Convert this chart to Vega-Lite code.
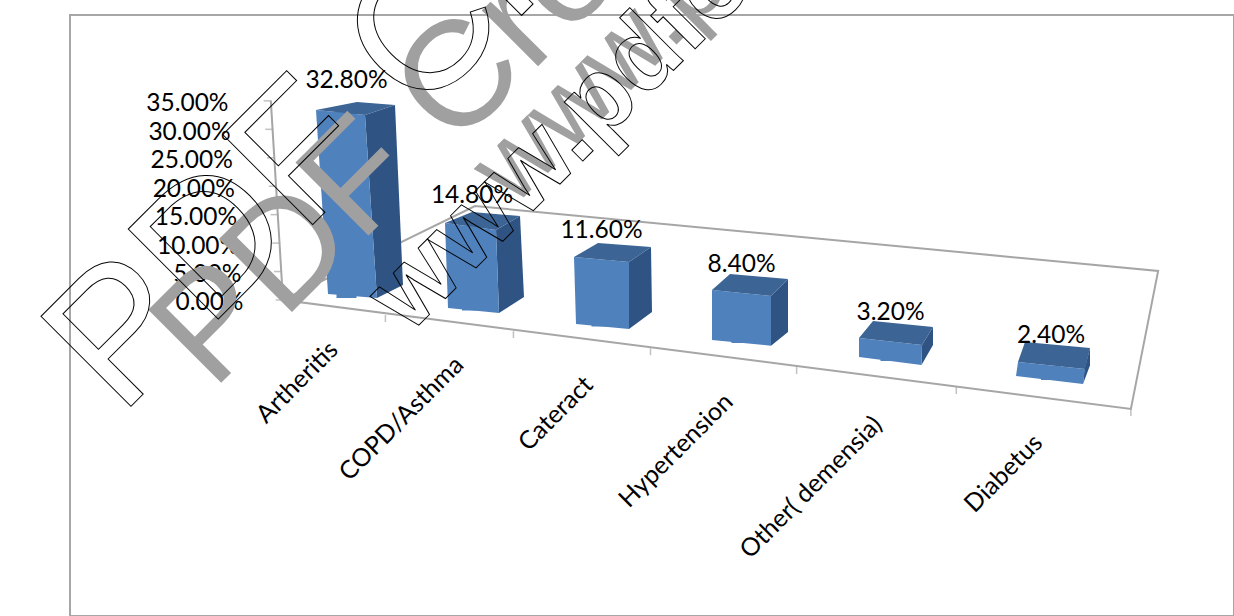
{
"$schema":"https://vega.github.io/schema/vega-lite/v6.json",
"width":1164,"height":601,
"autosize":{"type":"none"},
"padding":{"left":70,"top":15,"right":0,"bottom":0},
"background":"white",
"config":{"view":{"stroke":"#a6a6a6","strokeWidth":2},"font":"Lato"},
"datasets":{
"bars":[
{"order":1,"category":"Artheritis","value":0.328,"floor":0.0035,"top":0.3315},
{"order":2,"category":"COPD/Asthma","value":0.148,"floor":-0.0185,"top":0.1295},
{"order":3,"category":"Cateract","value":0.116,"floor":-0.0466,"top":0.0694},
{"order":4,"category":"Hypertension","value":0.084,"floor":-0.0756,"top":0.0084},
{"order":5,"category":"Other( demensia)","value":0.032,"floor":-0.1072,"top":-0.0752},
{"order":6,"category":"Diabetus","value":0.024,"floor":-0.1406,"top":-0.1166}],
"frame":[
{"seq":1,"pos":-0.033,"share":0.35},
{"seq":2,"pos":0.133,"share":0},
{"seq":3,"pos":6.873,"share":-0.1916},
{"seq":4,"pos":7.171,"share":0.051},
{"seq":5,"pos":2.023,"share":0.1652},
{"seq":6,"pos":0.133,"share":0}],
"valueTicks":[
{"pos":0.088,"share":0},{"pos":0.065,"share":0.05},{"pos":0.041,"share":0.1},{"pos":0.018,"share":0.15},
{"pos":-0.007,"share":0.2},{"pos":-0.03,"share":0.25},{"pos":-0.054,"share":0.3},{"pos":-0.077,"share":0.35}],
"categoryTicks":[
{"pos":1.31,"share":-0.0325},{"pos":2.32,"share":-0.0608},{"pos":3.35,"share":-0.091},
{"pos":4.37,"share":-0.124},{"pos":5.41,"share":-0.159},{"pos":6.873,"share":-0.1977}],
"stampGrey":[{"text":"PDF Create!","pos":-0.83,"share":-0.161}],
"stampOutline":[{"text":"PDF Create!","pos":-2.09,"share":-0.2056}],
"webGrey":[{"text":"www.pdfonline.com","pos":2.317,"share":0.1617}],
"webOutline":[{"text":"www.pdfonline.com","pos":1.498,"share":-0.0615}]
},
"resolve":{"scale":{"shape":"independent","yOffset":"independent","size":"independent"}},
"layer":[
{"data":{"name":"frame"},
 "mark":{"type":"line","stroke":"#a6a6a6","strokeWidth":2},
 "encoding":{
  "x":{"field":"pos","type":"quantitative","axis":null,"scale":{"domain":[0,1,2,3,4,5,6,7],"range":[130,276.5,402,531.5,671.5,820.5,981,1164]}},
  "y":{"field":"share","type":"quantitative","scale":{"domain":[-0.5554,0.5009],"nice":false},
   "axis":{"title":null,"offset":-180,"domain":false,"ticks":false,"grid":false,"values":[0,0.05,0.1,0.15,0.2,0.25,0.3,0.35],
    "format":".2%","labelFont":"Lato","labelFontSize":24.5,"labelColor":"black",
    "labelOffset":3,"labelOverlap":false,"labelBound":false,"labelFlush":false,
    "labelPadding":{"expr":"7+15*datum.value/0.35"}}},
  "order":{"field":"seq"}}},
{"data":{"name":"valueTicks"},
 "mark":{"type":"tick","orient":"horizontal","color":"#a6a6a6","size":8,"thickness":1.5},
 "encoding":{"x":{"field":"pos","type":"quantitative","axis":null},"y":{"field":"share","type":"quantitative"}}},
{"data":{"name":"categoryTicks"},
 "mark":{"type":"tick","orient":"vertical","color":"#a6a6a6","size":7,"thickness":1.5},
 "encoding":{"x":{"field":"pos","type":"quantitative","axis":null},"y":{"field":"share","type":"quantitative"}}},
{"data":{"name":"bars"},
 "mark":{"type":"point","filled":true,"color":"#2f5483","opacity":1},
 "encoding":{
  "x":{"field":"order","type":"quantitative"},
  "y":{"field":"top","type":"quantitative"},
  "size":{"value":4},
  "shape":{"field":"category","type":"nominal","legend":null,"scale":{"domain":["Artheritis","COPD/Asthma","Cateract","Hypertension","Other( demensia)","Diabetus"],
   "range":[
   "M18.5 3.6L48.5 -6.4L56.5 173.6L30.5 186.6Z",
   "M24 3.7L48 -10.3L52 70.7L27 86.7Z",
   "M27.5 1.5L49.5 -13.5L50.5 51.5L27.5 68.5Z",
   "M29.5 0.8L46.5 -16.2L46.5 36.8L29.5 50.5Z",
   "M31.5 2.2L42.5 -15.8L42.5 2.2L31 22.2Z",
   "M33.5 2.7L39 -18.3L39 -1L32 17.7Z"]}}}},
{"data":{"name":"bars"},
 "mark":{"type":"point","filled":true,"color":"#4f81bd","opacity":1},
 "encoding":{
  "x":{"field":"order","type":"quantitative"},
  "y":{"field":"top","type":"quantitative"},
  "size":{"value":4},
  "shape":{"field":"category","type":"nominal","legend":null,"scale":{"domain":["Artheritis","COPD/Asthma","Cateract","Hypertension","Other( demensia)","Diabetus"],
   "range":[
   "M-30.5 -1.4L18.5 3.6L30.5 186.6L-18.5 182.6Z",
   "M-27 -3.3L24 3.7L27 86.7L-24 81.7Z",
   "M-27.5 -3.5L27.5 1.5L27.5 68.5L-25.5 63.5Z",
   "M-29.5 -5.2L29.5 0.8L29.5 50.5L-29.5 44.8Z",
   "M-31.5 -4.8L31.5 2.2L31 22.2L-31.5 14.2Z",
   "M-33 -4.3L34 2.7L32 17.7L-35 9.7Z"]}}}},
{"data":{"name":"bars"},
 "mark":{"type":"bar","color":"#4f81bd"},
 "encoding":{
  "x":{"field":"order","type":"quantitative"},
  "y":{"field":"top","type":"quantitative"},
  "y2":{"field":"floor"},
  "size":{"value":20}}},
{"data":{"name":"bars"},
 "mark":{"type":"point","filled":true,"color":"#3c6494","opacity":1},
 "encoding":{
  "x":{"field":"order","type":"quantitative"},
  "y":{"field":"top","type":"quantitative"},
  "size":{"value":4},
  "shape":{"field":"category","type":"nominal","legend":null,"scale":{"domain":["Artheritis","COPD/Asthma","Cateract","Hypertension","Other( demensia)","Diabetus"],
   "range":[
   "M-30.5 -1.4L18.5 3.6L48.5 -6.4L10.5 -9.4Z",
   "M-27 -3.3L24 3.7L48 -10.3L0 -14.3Z",
   "M-27.5 -3.5L27.5 1.5L49.5 -13.5L-3.5 -17.5Z",
   "M-29.5 -5.2L29.5 0.8L46.5 -16.2L-11.5 -21.2Z",
   "M-31.5 -4.8L31.5 2.2L42.5 -15.8L-17.5 -21.8Z",
   "M-33 -4.3L34 2.7L39 -18.3L-26 -24.3Z"]}}}},
{"data":{"name":"bars"},
 "mark":{"type":"text","font":"Lato","fontSize":24.5,"color":"black","dy":-30,"baseline":"middle"},
 "encoding":{
  "x":{"field":"order","type":"quantitative"},
  "y":{"field":"top","type":"quantitative"},
  "text":{"field":"value","type":"quantitative","format":".2%"}}},
{"data":{"name":"bars"},
 "mark":{"type":"text","font":"Lato","fontSize":25,"color":"black","angle":315,"align":"right","baseline":"middle","dx":-18},
 "encoding":{
  "x":{"field":"order","type":"quantitative"},
  "y":{"datum":0},
  "yOffset":{"field":"order","type":"quantitative","scale":{"domain":[1,2,3,4,5,6],"range":[33,48,68,85,108,126]}},
  "text":{"field":"category","type":"nominal"}}},
{"data":{"name":"stampGrey"},
 "mark":{"type":"text","font":"Liberation Sans","fontSize":150,"angle":315,"align":"left","baseline":"alphabetic","color":"#a0a0a0"},
 "encoding":{"x":{"field":"pos","type":"quantitative"},"y":{"field":"share","type":"quantitative"},"text":{"field":"text"}}},
{"data":{"name":"stampOutline"},
 "mark":{"type":"text","font":"Liberation Sans","fontSize":185,"angle":315,"align":"left","baseline":"alphabetic","fill":"transparent","stroke":"black","strokeWidth":1},
 "encoding":{"x":{"field":"pos","type":"quantitative"},"y":{"field":"share","type":"quantitative"},"text":{"field":"text"}}},
{"data":{"name":"webGrey"},
 "mark":{"type":"text","font":"Liberation Sans","fontSize":105,"angle":315,"align":"left","baseline":"alphabetic","color":"#a0a0a0"},
 "encoding":{"x":{"field":"pos","type":"quantitative"},"y":{"field":"share","type":"quantitative"},"text":{"field":"text"}}},
{"data":{"name":"webOutline"},
 "mark":{"type":"text","font":"Liberation Sans","fontWeight":"bold","fontSize":104,"angle":315,"align":"left","baseline":"alphabetic","fill":"transparent","stroke":"black","strokeWidth":1},
 "encoding":{"x":{"field":"pos","type":"quantitative"},"y":{"field":"share","type":"quantitative"},"text":{"field":"text"}}}
]
}
